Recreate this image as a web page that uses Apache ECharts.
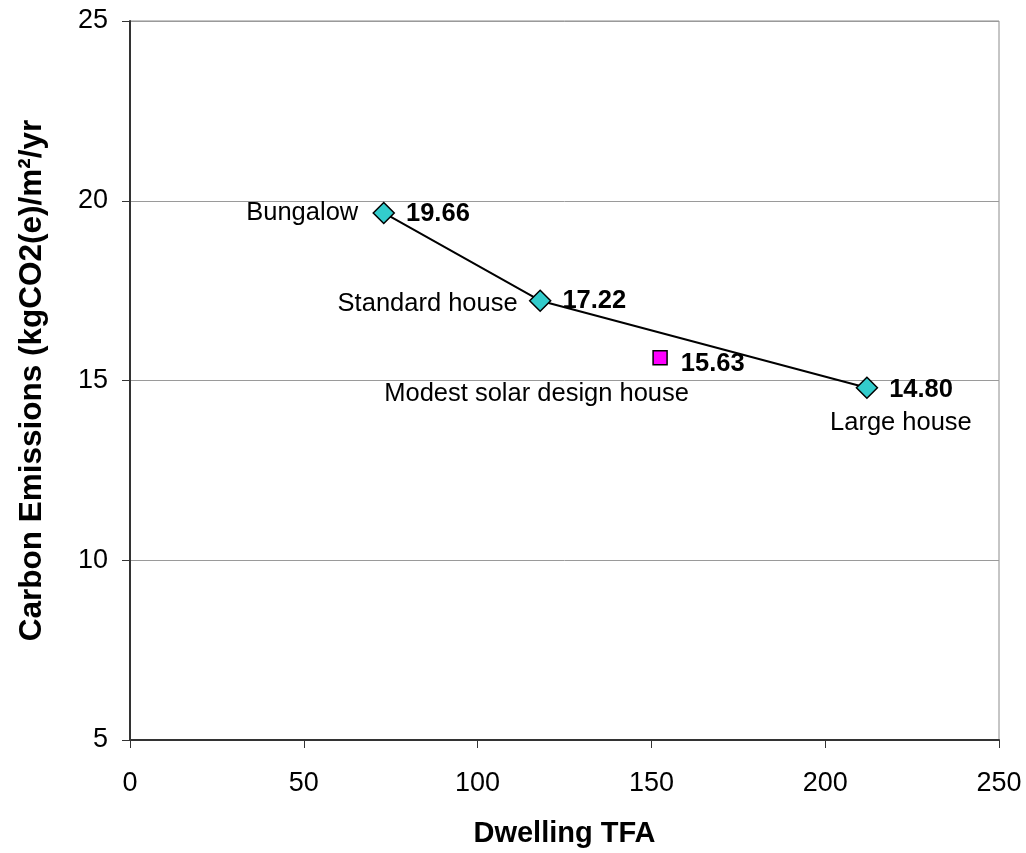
<!DOCTYPE html>
<html>
<head>
<meta charset="utf-8">
<script src="https://cdn.jsdelivr.net/npm/echarts@6/dist/echarts.min.js"></script>
<style>
html,body{margin:0;padding:0;background:#fff;}
#chart{width:1026px;height:853px;}
</style>
</head>
<body>
<div id="chart"></div>
<script>
// Data
const houseNames = ['Bungalow', 'Standard house', 'Large house'];
const houseTFA = [73, 118, 212];
const houseEmissions = [19.66, 17.22, 14.80];
const solarName = 'Modest solar design house';
const solarTFA = 152.5;
const solarEmissions = 15.63;
const xTicks = [0, 50, 100, 150, 200, 250];
const yTicks = [5, 10, 15, 20, 25];

const FONT = '"Liberation Sans", Arial, sans-serif';

const housePts = houseTFA.map((x, i) => [x, houseEmissions[i]]);
const solarPts = [[solarTFA, solarEmissions]];

const nameLabelCfg = [
  { position: 'left', distance: 15, offset: [0, 0] },
  { position: 'left', distance: 12, offset: [0, 3] },
  { position: 'inside', distance: 0, offset: [34, 35] }
];
const valueOffsets = [[0, 1], [0, 0], [0, 2]];

const chart = echarts.init(document.getElementById('chart'));
chart.setOption({
  animation: false,
  grid: { left: 130, right: 27, top: 21, bottom: 109, show: true, borderColor: '#8c8c8c', borderWidth: 1 },
  xAxis: {
    type: 'value', min: xTicks[0], max: xTicks[xTicks.length - 1], interval: 50,
    name: 'Dwelling TFA', nameLocation: 'middle', nameGap: 79,
    nameTextStyle: { fontFamily: FONT, fontSize: 29, fontWeight: 'bold', color: '#000' },
    axisLine: { show: true, onZero: false, lineStyle: { color: '#333', width: 2 } },
    axisTick: { show: true, length: 8, lineStyle: { color: '#333' } },
    axisLabel: { fontFamily: FONT, fontSize: 27, color: '#000', margin: 30 },
    splitLine: { show: false }
  },
  yAxis: {
    type: 'value', min: yTicks[0], max: yTicks[yTicks.length - 1], interval: 5,
    name: 'Carbon Emissions (kgCO2(e)/m²/yr', nameLocation: 'middle', nameGap: 82,
    nameTextStyle: { fontFamily: FONT, fontSize: 31.5, fontWeight: 'bold', color: '#000' },
    axisLine: { show: true, onZero: false, lineStyle: { color: '#333', width: 2 } },
    axisTick: { show: true, length: 8, lineStyle: { color: '#333' } },
    axisLabel: { fontFamily: FONT, fontSize: 27, color: '#000', margin: 22 },
    splitLine: { show: true, lineStyle: { color: '#9a9a9a', width: 1 } }
  },
  series: [
    {
      type: 'line', symbol: 'diamond', symbolSize: 21,
      data: housePts.map((pt, i) => ({ value: pt, label: { offset: valueOffsets[i] } })),
      lineStyle: { color: '#000', width: 2 },
      itemStyle: { color: '#33CCCC', borderColor: '#000', borderWidth: 1.5 },
      label: { show: true, position: 'right', distance: 11, fontFamily: FONT, fontSize: 25.5, fontWeight: 'bold', color: '#000', opacity: 1,
        formatter: p => p.value[1].toFixed(2) },
      emphasis: { disabled: true },
      z: 3
    },
    {
      type: 'scatter', data: solarPts, symbol: 'rect', symbolSize: 14,
      itemStyle: { color: '#FF00FF', borderColor: '#000', borderWidth: 1.5, opacity: 1 },
      label: { show: true, position: 'right', distance: 13, offset: [0, 6], fontFamily: FONT, fontSize: 25.5, fontWeight: 'bold', color: '#000', opacity: 1,
        formatter: p => p.value[1].toFixed(2) },
      emphasis: { disabled: true },
      z: 3
    },
    {
      type: 'scatter', symbol: 'rect', symbolSize: 21, itemStyle: { color: 'rgba(0,0,0,0)', borderWidth: 0 }, silent: true,
      emphasis: { disabled: true },
      data: housePts.map((pt, i) => ({
        value: pt,
        label: { show: true, position: nameLabelCfg[i].position, distance: nameLabelCfg[i].distance, offset: nameLabelCfg[i].offset,
          formatter: houseNames[i], fontFamily: FONT, fontSize: 25.5, color: '#000', opacity: 1 }
      })),
      z: 2
    },
    {
      type: 'scatter', symbol: 'rect', symbolSize: 1, itemStyle: { color: 'rgba(0,0,0,0)', borderWidth: 0 }, silent: true,
      emphasis: { disabled: true },
      data: [{ value: solarPts[0], label: { show: true, position: 'inside', offset: [-123.5, 36], formatter: solarName,
        fontFamily: FONT, fontSize: 25.5, color: '#000', opacity: 1 } }],
      z: 2
    }
  ]
});
</script>
</body>
</html>
